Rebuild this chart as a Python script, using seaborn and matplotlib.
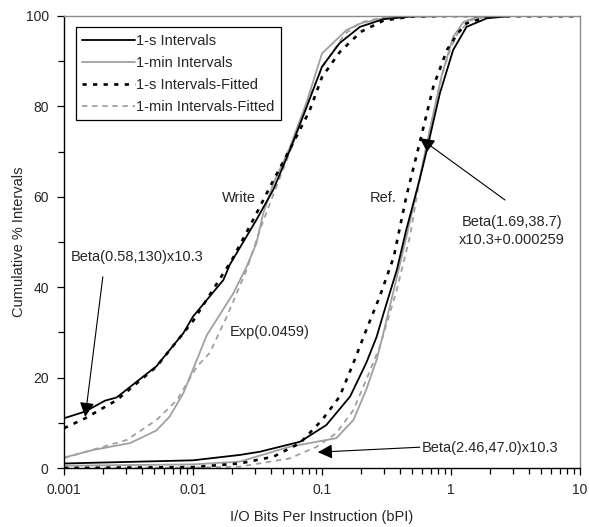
import numpy as np
import pandas as pd
import matplotlib
matplotlib.use("Agg")
import matplotlib.pyplot as plt
from matplotlib.ticker import FixedLocator, LogLocator, NullFormatter, MultipleLocator
import seaborn as sns

# ---------------- data ----------------
# Write, 1-s intervals (measured)
w1s_x = [0.001, 0.00146, 0.00208, 0.00256, 0.0041, 0.0052, 0.0084, 0.01, 0.0172, 0.0193,
         0.031, 0.0418, 0.0565, 0.0761, 0.1, 0.137, 0.197, 0.3, 0.5, 1, 10]
w1s_y = [11.0, 12.5, 14.9, 15.6, 20.2, 22.5, 29.8, 33.5, 41.6, 45.0,
         54.9, 61.5, 70.4, 79.9, 88.8, 94.0, 97.6, 99.3, 99.9, 100, 100]
# Write, 1-min intervals (measured)
w1m_x = [0.001, 0.00169, 0.00325, 0.0052, 0.0066, 0.0084, 0.0107, 0.0128, 0.0205, 0.026,
         0.031, 0.035, 0.042, 0.0565, 0.0761, 0.1, 0.155, 0.2, 0.3, 0.5, 1, 10]
w1m_y = [2.3, 4.0, 5.5, 8.3, 11.4, 16.5, 23.9, 29.4, 38.6, 44.5,
         49.7, 56.3, 63.0, 71.0, 81.0, 91.7, 96.9, 98.4, 99.5, 100, 100, 100]
# Write, 1-s fitted: Beta(0.58,130)x10.3
w1sf_x = [0.001, 0.00146, 0.00256, 0.0052, 0.01, 0.02, 0.03, 0.04, 0.06, 0.08, 0.1,
          0.137, 0.2, 0.3, 0.5, 1, 10]
w1sf_y = [8.8, 11.0, 15.0, 22.4, 32.5, 46.0, 55.5, 62.5, 72.0, 79.0, 86.5,
          92.0, 96.5, 99.0, 99.9, 100, 100]
# Write, 1-min fitted: Exp(0.0459)
w1mf_x = [0.001, 0.00306, 0.0052, 0.0075, 0.0107, 0.0135, 0.0183, 0.026, 0.033, 0.042,
          0.06, 0.08, 0.1, 0.15, 0.2, 0.3, 0.5, 1, 10]
w1mf_y = [2.2, 6.2, 10.6, 15.0, 22.4, 25.5, 33.5, 43.8, 52.7, 60.5,
          72.0, 82.0, 88.5, 96.0, 98.6, 99.7, 100, 100, 100]
# Ref, 1-s intervals (measured)
r1s_x = [0.001, 0.01, 0.0232, 0.033, 0.0675, 0.108, 0.165, 0.22, 0.265, 0.3, 0.38, 0.45,
         0.57, 0.65, 0.82, 1.04, 1.32, 1.9, 3, 10]
r1s_y = [1.0, 1.7, 2.9, 3.6, 5.8, 9.5, 15.8, 23.2, 29.0, 34.2, 43.8, 52.7,
         63.7, 70.4, 82.9, 92.5, 97.6, 99.5, 100, 100]
# Ref, 1-min intervals (measured)
r1m_x = [0.001, 0.01, 0.023, 0.056, 0.129, 0.175, 0.22, 0.265, 0.3, 0.36, 0.45, 0.57,
         0.7, 0.85, 1.04, 1.25, 1.6, 3, 10]
r1m_y = [0.5, 0.8, 1.4, 4.7, 6.6, 10.6, 17.3, 23.9, 30.0, 39.4, 51.0, 64.0,
         76.0, 87.0, 95.4, 98.7, 99.8, 100, 100]
# Ref, 1-s fitted: Beta(1.69,38.7)x10.3+0.000259
r1sf_x = [0.001, 0.01, 0.023, 0.042, 0.0675, 0.1, 0.137, 0.175, 0.22, 0.28, 0.36, 0.45,
          0.57, 0.73, 0.93, 1.13, 1.32, 2, 10]
r1sf_y = [0.0, 0.2, 1.0, 2.5, 5.5, 10.6, 15.8, 23.2, 30.5, 37.9, 46.7, 60.0,
          71.8, 84.4, 92.5, 96.2, 98.4, 100, 100]
# Ref, 1-min fitted: Beta(2.46,47.0)x10.3
r1mf_x = [0.001, 0.01, 0.023, 0.056, 0.091, 0.129, 0.175, 0.22, 0.28, 0.38, 0.48, 0.57,
          0.7, 0.85, 1.0, 1.13, 1.4, 2, 10]
r1mf_y = [0.0, 0.1, 0.3, 2.1, 4.7, 7.7, 12.8, 19.5, 26.8, 39.4, 51.2, 63.7,
          76.0, 87.0, 93.0, 96.2, 99.0, 100, 100]

legend_labels = ["1-s Intervals", "1-min Intervals", "1-s Intervals-Fitted", "1-min Intervals-Fitted"]
x_ticks = [0.001, 0.01, 0.1, 1, 10]
x_tick_labels = ["0.001", "0.01", "0.1", "1", "10"]
y_ticks = [0, 20, 40, 60, 80, 100]

# ---------------- styling ----------------
sns.set_style("ticks")
plt.rcParams['font.family'] = ['Liberation Sans', 'DejaVu Sans']

BLACK = "#000000"
GRAY = "#a0a0a0"
styles = {
    legend_labels[0]: dict(color=BLACK, linestyle="-", linewidth=1.3),
    legend_labels[1]: dict(color=GRAY, linestyle="-", linewidth=1.3),
    legend_labels[2]: dict(color=BLACK, linestyle=(0, (1.6, 2.4)), linewidth=1.9),
    legend_labels[3]: dict(color=GRAY, linestyle=(0, (3.0, 2.6)), linewidth=1.3),
}

series = [
    (legend_labels[0], w1s_x, w1s_y, True),
    (legend_labels[1], w1m_x, w1m_y, True),
    (legend_labels[2], w1sf_x, w1sf_y, True),
    (legend_labels[3], w1mf_x, w1mf_y, True),
    (legend_labels[0], r1s_x, r1s_y, False),
    (legend_labels[1], r1m_x, r1m_y, False),
    (legend_labels[2], r1sf_x, r1sf_y, False),
    (legend_labels[3], r1mf_x, r1mf_y, False),
]

fig = plt.figure(figsize=(5.89, 5.27), dpi=100)
ax = fig.add_axes([64 / 589, 1 - 468 / 527, 516 / 589, 452 / 527])

handles = {}
# draw in an order so black lines sit on top of gray
order = [1, 5, 3, 7, 0, 4, 2, 6]
for i in order:
    lab, xs, ys, first = series[i]
    df = pd.DataFrame({"x": xs, "y": ys})
    sns.lineplot(data=df, x="x", y="y", ax=ax, sort=False, estimator=None,
                 legend=False, **styles[lab])
    if first:
        handles[lab] = ax.get_lines()[-1]

ax.set_xscale("log")
ax.set_xlim(0.001, 10)
ax.set_ylim(0, 100)

ax.xaxis.set_major_locator(FixedLocator(x_ticks))
ax.set_xticklabels(x_tick_labels)
ax.xaxis.set_minor_locator(LogLocator(base=10, subs=np.arange(2, 10)))
ax.xaxis.set_minor_formatter(NullFormatter())
ax.set_yticks(y_ticks)
ax.yaxis.set_minor_locator(MultipleLocator(10))

ax.tick_params(axis="both", which="major", direction="out", length=5, width=0.9,
               color="black", labelsize=10, pad=6)
ax.tick_params(axis="both", which="minor", direction="out", length=4, width=0.9, color="black")

for s in ["left", "bottom"]:
    ax.spines[s].set_color("black")
    ax.spines[s].set_linewidth(1.0)
for s in ["top", "right"]:
    ax.spines[s].set_visible(True)
    ax.spines[s].set_color("#8c8c8c")
    ax.spines[s].set_linewidth(1.0)

ax.set_xlabel("I/O Bits Per Instruction (bPI)", fontsize=10.5, labelpad=9)
ax.set_ylabel("Cumulative % Intervals", fontsize=10.5, labelpad=0)

leg = ax.legend([handles[l] for l in legend_labels], legend_labels,
                loc="upper left", bbox_to_anchor=(0.023, 0.975), fontsize=10.5,
                frameon=True, fancybox=False, framealpha=1, edgecolor="black",
                handlelength=3.6, handletextpad=0.1, labelspacing=0.55,
                borderpad=0.45, borderaxespad=0)
leg.get_frame().set_linewidth(0.9)

# text labels & annotations
fs = 10.5
ax.text(0.0227, 59.7, "Write", ha="center", va="center", fontsize=fs)
ax.text(0.297, 59.7, "Ref.", ha="center", va="center", fontsize=fs)
ax.text(0.0395, 30.1, "Exp(0.0459)", ha="center", va="center", fontsize=fs)

arrow = dict(arrowstyle="-|>", color="black", lw=0.8, mutation_scale=22,
             shrinkA=0, shrinkB=0)
ax.annotate("", xy=(0.00146, 11.3), xytext=(0.002, 42.3), arrowprops=arrow)
ax.text(0.00368, 46.7, "Beta(0.58,130)x10.3", ha="center", va="center", fontsize=fs)

ax.annotate("", xy=(0.573, 73.0), xytext=(2.62, 59.3), arrowprops=arrow)
ax.text(2.97, 52.4, "Beta(1.69,38.7)\nx10.3+0.000259", ha="center", va="center",
        fontsize=fs, linespacing=1.35)

ax.annotate("", xy=(0.0929, 3.5), xytext=(0.573, 4.6), arrowprops=arrow)
ax.text(0.59, 4.4, "Beta(2.46,47.0)x10.3", ha="left", va="center", fontsize=fs)

fig.savefig("out.png", dpi=100)
